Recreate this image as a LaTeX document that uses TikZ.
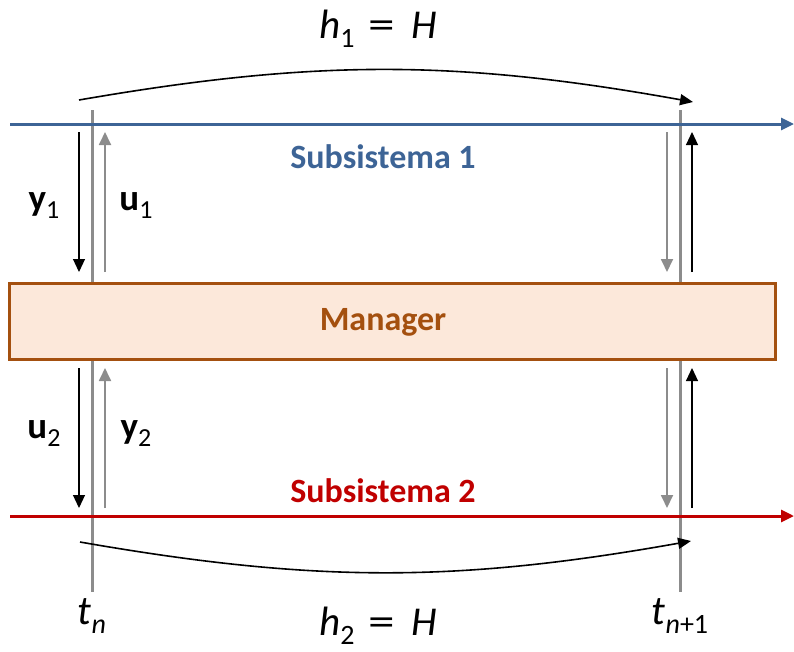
\documentclass[tikz,border=0pt]{standalone}
\usepackage{fontspec}
\setmainfont{Carlito}
\usetikzlibrary{arrows.meta}
\definecolor{sysblue}{HTML}{3D6496}
\definecolor{sysred}{HTML}{C00000}
\definecolor{mgrbrown}{HTML}{A4500F}
\definecolor{mgrfill}{HTML}{FCE8DA}
\definecolor{linegray}{HTML}{8C8C8C}
\newcommand{\lbl}[2]{\textbf{#1}\raisebox{-0.22em}{\fontsize{26}{28}\selectfont #2}}
\newcommand{\tlbl}[2]{\textit{#1}\raisebox{-0.22em}{\fontsize{28}{30}\selectfont\textit{#2}}}
\newcommand{\weq}{\hspace{14pt}\scalebox{1.3}[1]{=}\hspace{16pt}}
\begin{document}
\begin{tikzpicture}[x=1pt,y=-1pt,
  timeline/.style={line width=3pt, draw=linegray},
  sysline/.style={line width=3pt, -{Triangle[length=13pt,width=12pt]}},
  sigblack/.style={line width=1.1pt, draw=black, -{Triangle[length=13pt,width=12pt]}},
  siggray/.style={line width=1.8pt, draw=linegray, -{Triangle[length=13pt,width=12pt]}},
  horizon/.style={line width=1.6pt, -{Triangle[length=13pt,width=11pt]}},
  systext/.style={font=\bfseries\fontsize{34}{36}\selectfont, inner sep=0pt},
  vlabel/.style={font=\fontsize{37}{39}\selectfont, inner sep=0pt},
  mlabel/.style={font=\fontsize{41}{43}\selectfont, inner sep=0pt}]
\useasboundingbox (0,0) rectangle (794,651);
% time lines
\coordinate (ta) at (92,110); \coordinate (tb) at (92,592);
\coordinate (tc) at (680,110); \coordinate (td) at (680,592);
\draw[timeline] (ta) -- (tb);
\draw[timeline] (tc) -- (td);
% subsystem lines
\coordinate (b0) at (10,124); \coordinate (b1) at (794,124);
\coordinate (r0) at (10,516); \coordinate (r1) at (794,516);
\draw[sysline, draw=sysblue, fill=sysblue] (b0) -- (b1);
\draw[sysline, draw=sysred, fill=sysred] (r0) -- (r1);
% manager box
\node[draw=mgrbrown, fill=mgrfill, line width=3pt, minimum width=766pt, minimum height=76pt, inner sep=0pt] (mgr) at (392,321) {};
\node[systext, text=mgrbrown] (mgrtext) at (383,322) {Manager};
\node[systext, text=sysblue] (s1) at (383,157) {Subsistema 1};
\node[systext, text=sysred] (s2) at (383,491) {Subsistema 2};
% signal arrows, top
\coordinate (a1) at (79,132); \coordinate (a2) at (79,272);
\coordinate (a3) at (105,272); \coordinate (a4) at (105,132);
\coordinate (a5) at (667,132); \coordinate (a6) at (667,272);
\coordinate (a7) at (692,272); \coordinate (a8) at (692,132);
\draw[sigblack] (a1) -- (a2);
\draw[siggray] (a3) -- (a4);
\draw[siggray] (a5) -- (a6);
\draw[sigblack] (a7) -- (a8);
% signal arrows, bottom
\coordinate (c1) at (79,368); \coordinate (c2) at (79,508);
\coordinate (c3) at (105,508); \coordinate (c4) at (105,368);
\coordinate (c5) at (667,368); \coordinate (c6) at (667,508);
\coordinate (c7) at (692,508); \coordinate (c8) at (692,368);
\draw[sigblack] (c1) -- (c2);
\draw[siggray] (c3) -- (c4);
\draw[siggray] (c5) -- (c6);
\draw[sigblack] (c7) -- (c8);
% horizons
\coordinate (h1s) at (79,100); \coordinate (h1e) at (693,102);
\coordinate (h2s) at (80,542); \coordinate (h2e) at (691,541);
\draw[horizon] (h1s) to[bend left=10] (h1e);
\draw[horizon] (h2s) to[bend right=10] (h2e);
% labels
\node[vlabel, anchor=base] (y1) at (44,210) {\lbl{y}{1}};
\node[vlabel, anchor=base] (u1) at (136,210) {\lbl{u}{1}};
\node[vlabel, anchor=base] (u2) at (44,438) {\lbl{u}{2}};
\node[vlabel, anchor=base] (y2) at (136,438) {\lbl{y}{2}};
\node[mlabel, anchor=base] (hh1) at (378,38) {\tlbl{h}{\upshape 1}\weq\textit{H}};
\node[mlabel, anchor=base] (hh2) at (378,635) {\tlbl{h}{\upshape 2}\weq\textit{H}};
\node[mlabel, anchor=base] (tn) at (92,624) {\tlbl{t}{n}};
\node[mlabel, anchor=base] (tn1) at (680,624) {\tlbl{t}{n\upshape +1}};
\end{tikzpicture}
\end{document}
